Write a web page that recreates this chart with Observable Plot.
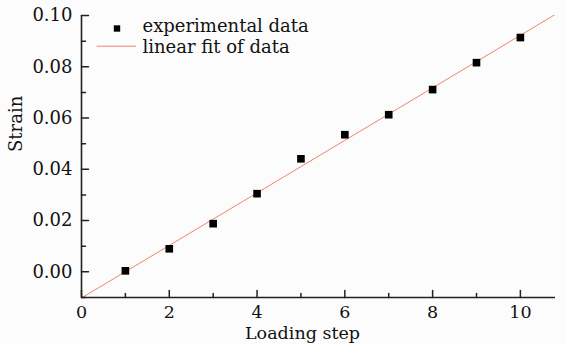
<!DOCTYPE html>
<html><head><meta charset="utf-8">
<script src="https://cdn.jsdelivr.net/npm/d3@7"></script>
<script src="https://cdn.jsdelivr.net/npm/@observablehq/plot@0.6"></script>
<style>
html,body{margin:0;padding:0;background:#fcfcfc;}
#chart svg{background:#fcfcfc;}
</style>
</head><body><div id="chart"></div>
<script>
const steps = [1, 2, 3, 4, 5, 6, 7, 8, 9, 10];
const strain = [0.0004, 0.009, 0.0188, 0.0305, 0.0441, 0.0535, 0.0613, 0.0711, 0.0816, 0.0914];
const xMajorTicks = [0, 2, 4, 6, 8, 10];
const xMinorTicks = [1, 3, 5, 7, 9];
const yMajorTicks = [0, 0.02, 0.04, 0.06, 0.08, 0.10];
const yMinorTicks = [-0.01, 0.01, 0.03, 0.05, 0.07, 0.09];
const legendLabels = ["experimental data", "linear fit of data"];
const xLabel = "Loading step";
const yLabel = "Strain";
const xDomain = [0, 10.8];
const yDomain = [-0.01, 0.10];

const data = steps.map((s, i) => ({step: s, strain: strain[i]}));
// least-squares fit
const mx = d3.mean(steps), my = d3.mean(strain);
const slope = d3.sum(data, d => (d.step - mx) * (d.strain - my)) / d3.sum(steps, s => (s - mx) ** 2);
const intercept = my - slope * mx;
const fit = xDomain.map(x => ({step: x, strain: intercept + slope * x}));

const FONT = "DejaVu Serif";
const lineColor = "#f2826e";
const axisColor = "#222";

const tickShape = {draw(context, l) { context.moveTo(0, 0); context.lineTo(0, -l); }};

const chart = Plot.plot({
  width: 566, height: 344,
  marginLeft: 81, marginRight: 11, marginTop: 15, marginBottom: 47,
  style: {fontFamily: FONT, fontSize: "18px", color: "#111", background: "#fcfcfc"},
  x: {domain: xDomain},
  y: {domain: yDomain},
  marks: [
    Plot.line(fit, {x: "step", y: "strain", stroke: lineColor, strokeWidth: 1, clip: true}),
    Plot.dot(data, {x: "step", y: "strain", symbol: "square", r: 4.3, fill: "#000"}),
    // inward ticks
    Plot.vector(yMajorTicks, {y: d => d, frameAnchor: "left", anchor: "start", length: 7, rotate: 90, shape: tickShape, stroke: axisColor, strokeWidth: 1.5}),
    Plot.vector(yMinorTicks, {y: d => d, frameAnchor: "left", anchor: "start", length: 4, rotate: 90, shape: tickShape, stroke: axisColor, strokeWidth: 1.5}),
    Plot.vector(xMajorTicks, {x: d => d, frameAnchor: "bottom", anchor: "start", length: 7, rotate: 0, shape: tickShape, stroke: axisColor, strokeWidth: 1.5}),
    Plot.vector(xMinorTicks, {x: d => d, frameAnchor: "bottom", anchor: "start", length: 4, rotate: 0, shape: tickShape, stroke: axisColor, strokeWidth: 1.5}),
    Plot.axisY(yMajorTicks, {tickSize: 0, tickPadding: 9, tickFormat: d3.format(".2f"), label: null, fontSize: 18, fill: "#111"}),
    Plot.axisX(xMajorTicks, {tickSize: 0, tickPadding: 8, tickFormat: d => d, label: null, fontSize: 17.5, fill: "#111"}),
    Plot.ruleX([0], {stroke: axisColor, strokeWidth: 1.6}),
    Plot.ruleY([yDomain[0]], {stroke: axisColor, strokeWidth: 1.6}),
    // axis titles
    Plot.text([xLabel], {text: d => d, frameAnchor: "bottom", dx: -16, dy: 35.9, lineAnchor: "middle", fontSize: 17.5, fill: "#111"}),
    Plot.text([yLabel], {text: d => d, frameAnchor: "left", rotate: -90, dx: -65, dy: -4.5, lineAnchor: "middle", fontSize: 18, fill: "#111"}),
    // legend
    Plot.dot([legendLabels[0]], {frameAnchor: "top-left", dx: 35.5, dy: 13, symbol: "square", r: 3.6, fill: "#000"}),
    Plot.text([legendLabels[0]], {text: d => d, frameAnchor: "top-left", dx: 61, dy: 10.6, textAnchor: "start", lineAnchor: "middle", fontSize: 18, fill: "#111"}),
    Plot.vector([legendLabels[1]], {frameAnchor: "top-left", dx: 15.5, dy: 30.7, anchor: "start", length: 38.5, rotate: 90, shape: tickShape, stroke: lineColor, strokeWidth: 1}),
    Plot.text([legendLabels[1]], {text: d => d, frameAnchor: "top-left", dx: 61, dy: 31.6, textAnchor: "start", lineAnchor: "middle", fontSize: 18, fill: "#111"})
  ]
});
document.getElementById("chart").append(chart);
</script>
</body></html>
